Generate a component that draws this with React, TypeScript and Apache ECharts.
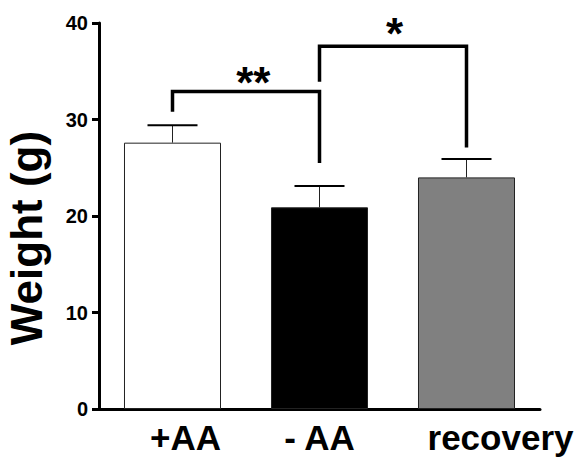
import React, { useEffect, useRef } from "react";
import * as echarts from "echarts";

const categories = ["+AA", "- AA", "recovery"];
const means = [27.6, 20.9, 24.0];
const errors = [1.8, 2.2, 1.9];
const barColors = ["#ffffff", "#000000", "#808080"];
const yTicks = [0, 10, 20, 30, 40];
const bracket1 = [[0, 30.8], [0, 32.9], [1, 32.9], [1, 25.5]];
const bracket2 = [[1, 33.9], [1, 37.6], [2, 37.6], [2, 27.1]];
const stars = [
  { x: 0.55, y: 33.85, text: "**" },
  { x: 1.51, y: 38.9, text: "*" },
];
const labelShift = [26, 0, 68];

export default function App() {
  const ref = useRef<HTMLDivElement>(null);
  useEffect(() => {
    if (!ref.current) return;
    const chart = echarts.init(ref.current, null, { renderer: "svg" });
    const font = "Liberation Sans, Arial, sans-serif";
    chart.setOption({
      animation: false,
      grid: { left: 99, right: 37, top: 23, bottom: 59, containLabel: false, outerBoundsMode: "none" },
      xAxis: {
        type: "category",
        data: categories.map((c, i) => ({
          value: c,
          textStyle: {
            padding: labelShift[i] >= 0 ? [0, 0, 0, labelShift[i]] : [0, -labelShift[i], 0, 0],
          },
        })),
        axisLine: { lineStyle: { color: "#000", width: 3 } },
        axisTick: { show: false },
        axisLabel: {
          color: "#000",
          fontWeight: "bold",
          fontSize: 35,
          fontFamily: font,
          margin: 11,
          interval: 0,
          hideOverlap: false,
        },
      },
      yAxis: {
        type: "value",
        min: 0,
        max: 40,
        interval: 10,
        name: "Weight (g)",
        nameLocation: "middle",
        nameGap: 51,
        nameTextStyle: {
          color: "#000",
          fontWeight: "bold",
          fontSize: 44,
          fontFamily: font,
          padding: [0, 44, 0, 0],
        },
        splitLine: { show: false },
        axisLine: { show: true, lineStyle: { color: "#000", width: 3 } },
        axisTick: { show: true, length: 7, lineStyle: { color: "#000", width: 3 } },
        axisLabel: {
          color: "#000",
          fontWeight: "bold",
          fontSize: 20,
          fontFamily: font,
          margin: 11,
          formatter: (v: number) => (yTicks.includes(v) ? String(v) : ""),
        },
      },
      series: [
        {
          type: "bar",
          barWidth: "66%",
          data: means.map((v, i) => ({
            value: v,
            itemStyle: { color: barColors[i], borderColor: "#222", borderWidth: 1 },
          })),
          z: 2,
        },
        {
          type: "custom",
          z: 3,
          data: means.map((m, i) => [i, m, m + errors[i]]),
          renderItem: (params: any, api: any) => {
            const x = api.value(0);
            const low = api.coord([x, api.value(1)]);
            const high = api.coord([x, api.value(2)]);
            return {
              type: "group",
              children: [
                {
                  type: "line",
                  shape: { x1: low[0], y1: low[1], x2: high[0], y2: high[1] },
                  style: { stroke: "#222", lineWidth: 1 },
                },
                {
                  type: "line",
                  shape: { x1: high[0] - 25, y1: high[1], x2: high[0] + 25, y2: high[1] },
                  style: { stroke: "#000", lineWidth: 2 },
                },
              ],
            };
          },
        },
        {
          type: "custom",
          z: 4,
          data: [0, 1],
          renderItem: (params: any, api: any) => {
            const pts = [bracket1, bracket2][params.dataIndex].map((p) => api.coord(p));
            return {
              type: "polyline",
              shape: { points: pts },
              style: { stroke: "#000", lineWidth: 3.5, fill: "none" },
            };
          },
        },
        {
          type: "custom",
          z: 5,
          data: stars.map((s) => [s.x, s.y]),
          renderItem: (params: any, api: any) => {
            const s = stars[params.dataIndex];
            const base = Math.floor(s.x);
            const frac = s.x - base;
            const a = api.coord([base, s.y]);
            const b = api.coord([base + 1, s.y]);
            const px = a[0] + (b[0] - a[0]) * frac;
            return {
              type: "text",
              x: px,
              y: a[1],
              style: {
                text: s.text,
                fill: "#000",
                font: "bold 44px Liberation Sans, Arial, sans-serif",
                align: "center",
                verticalAlign: "middle",
              },
            };
          },
        },
      ],
    });
    return () => chart.dispose();
  }, []);
  return <div ref={ref} style={{ width: 577, height: 468, position: "absolute", left: 0, top: 0 }} />;
}
